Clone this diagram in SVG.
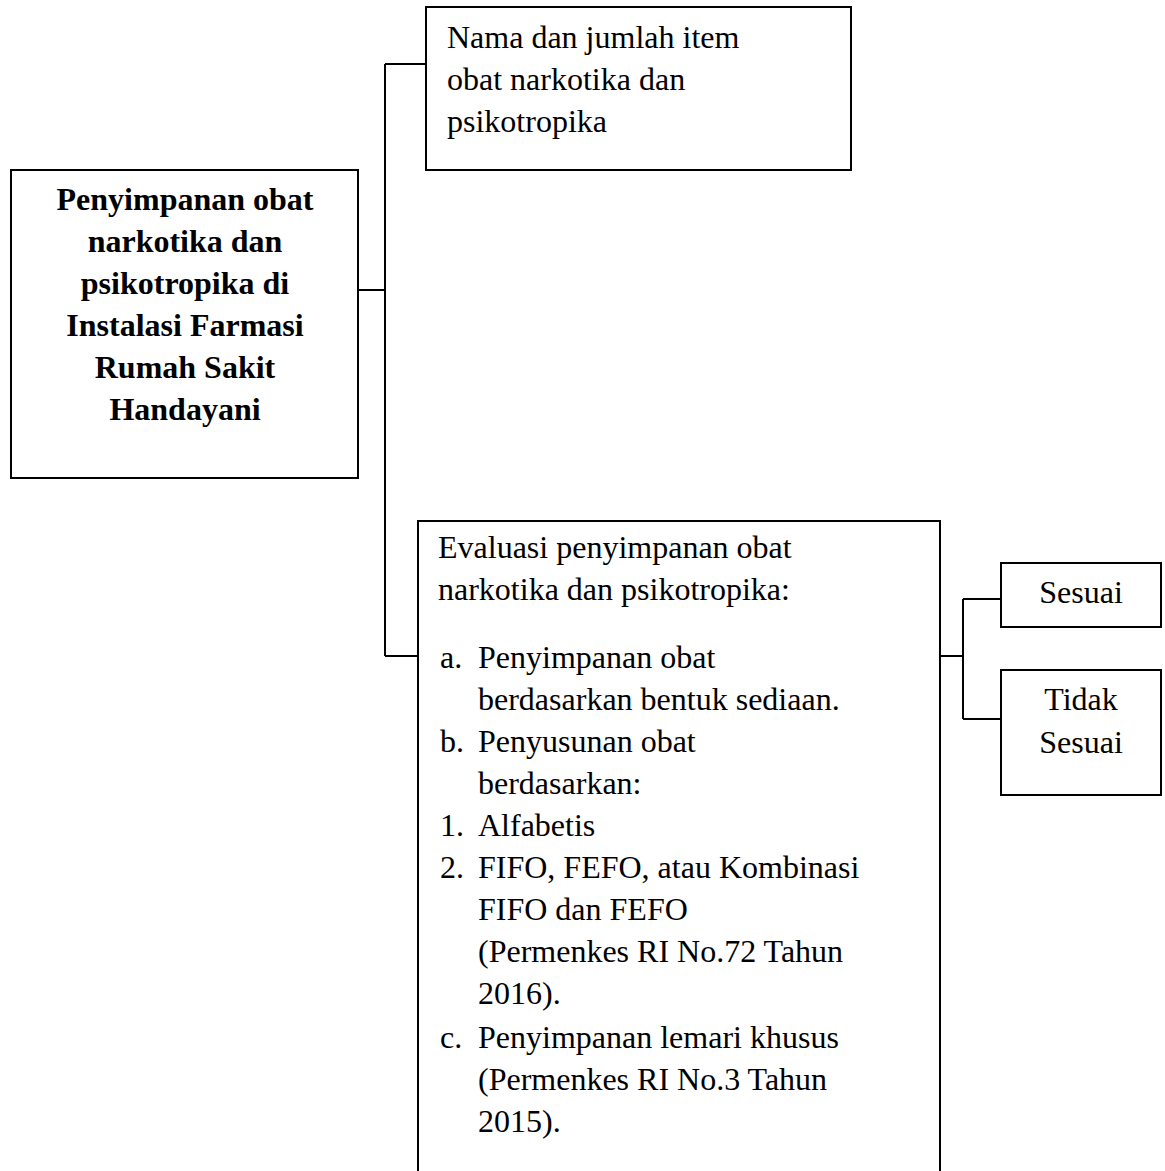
<svg xmlns="http://www.w3.org/2000/svg" width="1165" height="1171" viewBox="0 0 1165 1171">
<style>
.box{fill:#fff;stroke:#000;stroke-width:2}
.t{font-family:"Liberation Serif","Times New Roman",serif;font-size:32px;fill:#000}
.b{font-weight:bold;text-anchor:middle}
.c{text-anchor:middle}
.conn{fill:none;stroke:#000;stroke-width:2}
</style>
<rect width="1165" height="1171" fill="#fff"/>
<g id="connectors">
<path class="conn" d="M358 290H385M385 64V656M385 64H426M385 656H418"/>
<path class="conn" d="M940 656H963M963 599V719M963 599H1001M963 719H1001"/>
</g>
<g id="node-main">
<rect class="box" x="11" y="170" width="347" height="308"/>
<text class="t b" x="185" y="210">Penyimpanan obat</text>
<text class="t b" x="185" y="252">narkotika dan</text>
<text class="t b" x="185" y="294">psikotropika di</text>
<text class="t b" x="185" y="336">Instalasi Farmasi</text>
<text class="t b" x="185" y="378">Rumah Sakit</text>
<text class="t b" x="185" y="420">Handayani</text>
</g>
<g id="node-nama">
<rect class="box" x="426" y="7" width="425" height="163"/>
<text class="t" x="447" y="48">Nama dan jumlah item</text>
<text class="t" x="447" y="90">obat narkotika dan</text>
<text class="t" x="447" y="132">psikotropika</text>
</g>
<g id="node-evaluasi">
<rect class="box" x="418" y="521" width="522" height="670"/>
<text class="t" x="438" y="558">Evaluasi penyimpanan obat</text>
<text class="t" x="438" y="600">narkotika dan psikotropika:</text>
<text class="t" x="440" y="668">a.</text><text class="t" x="478" y="668">Penyimpanan obat</text>
<text class="t" x="478" y="710">berdasarkan bentuk sediaan.</text>
<text class="t" x="440" y="752">b.</text><text class="t" x="478" y="752">Penyusunan obat</text>
<text class="t" x="478" y="794">berdasarkan:</text>
<text class="t" x="440" y="836">1.</text><text class="t" x="478" y="836">Alfabetis</text>
<text class="t" x="440" y="878">2.</text><text class="t" x="478" y="878">FIFO, FEFO, atau Kombinasi</text>
<text class="t" x="478" y="920">FIFO dan FEFO</text>
<text class="t" x="478" y="962">(Permenkes RI No.72 Tahun</text>
<text class="t" x="478" y="1004">2016).</text>
<text class="t" x="440" y="1048">c.</text><text class="t" x="478" y="1048">Penyimpanan lemari khusus</text>
<text class="t" x="478" y="1090">(Permenkes RI No.3 Tahun</text>
<text class="t" x="478" y="1132">2015).</text>
</g>
<g id="node-sesuai">
<rect class="box" x="1001" y="563" width="160" height="64"/>
<text class="t c" x="1081" y="603">Sesuai</text>
</g>
<g id="node-tidak">
<rect class="box" x="1001" y="670" width="160" height="125"/>
<text class="t c" x="1081" y="710">Tidak</text>
<text class="t c" x="1081" y="753">Sesuai</text>
</g>
</svg>
